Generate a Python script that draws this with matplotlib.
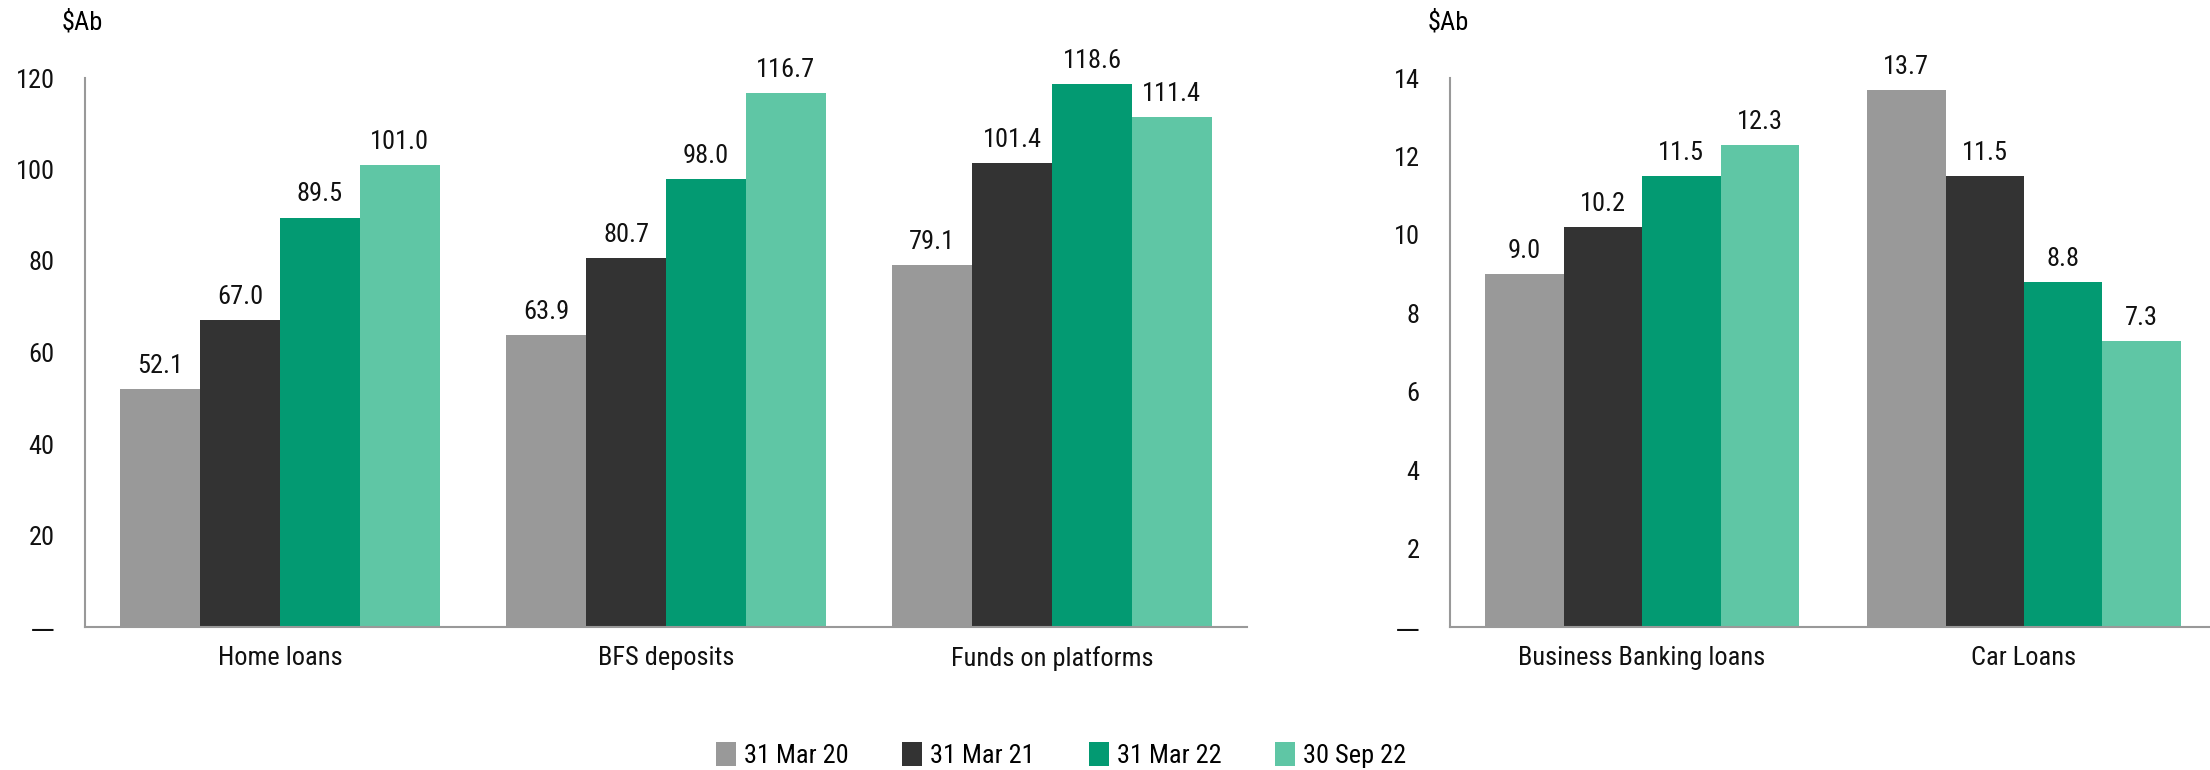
import matplotlib
matplotlib.use("Agg")
import matplotlib.pyplot as plt
from matplotlib import font_manager
import numpy as np

# prefer a narrow face if one is installed
names = {f.name for f in font_manager.fontManager.ttflist}
narrow = [n for n in ['Liberation Sans Narrow', 'Roboto Condensed', 'Open Sans Condensed', 'DejaVu Sans'] if n in names]
plt.rcParams['font.family'] = narrow + ['DejaVu Sans']
plt.rcParams['font.stretch'] = 'condensed'

# Data
periods = ['31 Mar 20', '31 Mar 21', '31 Mar 22', '30 Sep 22']
colors = ['#999999', '#333333', '#039a72', '#5fc6a5']

left_cats = ['Home loans', 'BFS deposits', 'Funds on platforms']
left_vals = [
    [52.1, 63.9, 79.1],
    [67.0, 80.7, 101.4],
    [89.5, 98.0, 118.6],
    [101.0, 116.7, 111.4],
]

right_cats = ['Business Banking loans', 'Car Loans']
right_vals = [
    [9.0, 13.7],
    [10.2, 11.5],
    [11.5, 8.8],
    [12.3, 7.3],
]

FS = 19
W, H = 2210, 770


def draw_panel(ax, cats, vals, ymax, step, xlim, width):
    x = np.arange(len(cats))
    handles = []
    for i, (series, col) in enumerate(zip(vals, colors)):
        pos = x + (i - 1.5) * width
        b = ax.bar(pos, series, width=width, color=col, label=periods[i])
        handles.append(b)
        for px, v in zip(pos, series):
            ax.annotate(f'{v:.1f}', (px, v), xytext=(0, 8), textcoords='offset points',
                        ha='center', va='bottom', fontsize=FS, color='#111111')
    ax.set_xlim(*xlim)
    ax.set_ylim(0, ymax)
    ticks = np.arange(0, ymax + step / 2, step)
    ax.set_yticks(ticks)
    ax.set_yticklabels(['—'] + [f'{int(t)}' for t in ticks[1:]])
    ax.get_yticklabels()[0].set_family('DejaVu Sans')
    ax.set_xticks(x)
    ax.set_xticklabels(cats)
    ax.tick_params(axis='both', length=0, labelsize=FS, colors='#111111')
    ax.tick_params(axis='y', pad=22)
    ax.tick_params(axis='x', pad=14)
    for s in ['top', 'right']:
        ax.spines[s].set_visible(False)
    for s in ['left', 'bottom']:
        ax.spines[s].set_color('#999999')
        ax.spines[s].set_linewidth(1.5)
    return handles


fig = plt.figure(figsize=(W / 100, H / 100), dpi=100)
ax1 = fig.add_axes([85 / W, 143 / H, 1162 / W, 549 / H])
ax2 = fig.add_axes([1450 / W, 143 / H, 760 / W, 549 / H])

handles = draw_panel(ax1, left_cats, left_vals, 120, 20, (-0.505, 2.505), 0.207)
draw_panel(ax2, right_cats, right_vals, 14, 2, (-0.503, 1.487), 0.2055)

fig.text(62 / W, 1 - 22 / H, '$Ab', fontsize=FS, va='center', ha='left')
fig.text(1428 / W, 1 - 22 / H, '$Ab', fontsize=FS, va='center', ha='left')

fig.legend(handles=handles, labels=periods, loc='center', bbox_to_anchor=(1061 / W, 1 - 755 / H),
           ncol=4, frameon=False, fontsize=FS, handlelength=0.75, handleheight=1.0,
           handletextpad=0.3, columnspacing=2.05)

fig.savefig('out.png', dpi=100)
